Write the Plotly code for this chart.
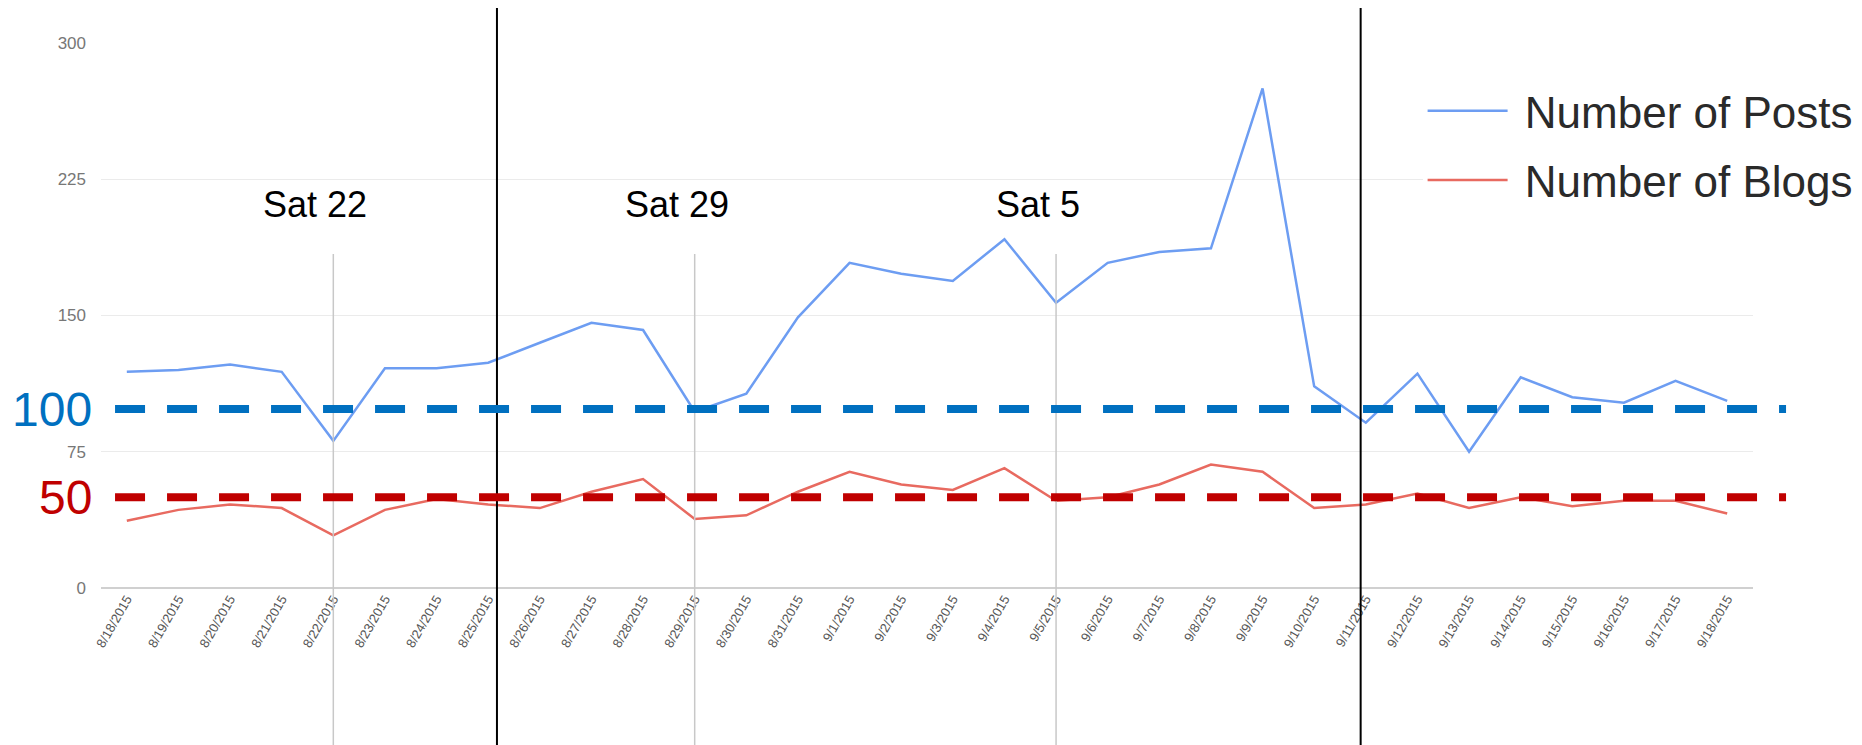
import plotly.graph_objects as go

dates = ["8/18/2015", "8/19/2015", "8/20/2015", "8/21/2015", "8/22/2015", "8/23/2015",
         "8/24/2015", "8/25/2015", "8/26/2015", "8/27/2015", "8/28/2015", "8/29/2015",
         "8/30/2015", "8/31/2015", "9/1/2015", "9/2/2015", "9/3/2015", "9/4/2015",
         "9/5/2015", "9/6/2015", "9/7/2015", "9/8/2015", "9/9/2015", "9/10/2015",
         "9/11/2015", "9/12/2015", "9/13/2015", "9/14/2015", "9/15/2015", "9/16/2015",
         "9/17/2015", "9/18/2015"]
posts = [119, 120, 123, 119, 81, 121, 121, 124, 135, 146, 142, 97, 107, 149, 179, 173,
         169, 192, 157, 179, 185, 187, 275, 111, 91, 118, 75, 116, 105, 102, 114, 103]
blogs = [37, 43, 46, 44, 29, 43, 49, 46, 44, 53, 60, 38, 40, 53, 64, 57,
         54, 66, 48, 50, 57, 68, 64, 44, 46, 52, 44, 50, 45, 48, 48, 41]

saturdays = ["8/22/2015", "8/29/2015", "9/5/2015"]
saturday_labels = ["Sat 22", "Sat 29", "Sat 5"]
week_breaks = [7.17, 23.9]   # hand drawn separators, category index
target_labels = ["100", "50"]
target_levels = [98.5, 50]   # where the hand drawn dashes sit
target_colors = ["#0070C0", "#C00000"]

fig = go.Figure()
fig.add_trace(go.Scatter(x=dates, y=posts, mode="lines", name=" Number of Posts",
                         line=dict(color="#6D9DF2", width=2.5), legendgroup="a"))
fig.add_trace(go.Scatter(x=dates, y=blogs, mode="lines", name=" Number of Blogs",
                         line=dict(color="#E86A60", width=2.5), legendgroup="b"))

# saturday markers
for d, lab in zip(saturdays, saturday_labels):
    i = dates.index(d)
    fig.add_shape(type="line", xref="x", yref="paper", x0=i, x1=i, y0=-0.31, y1=0.613,
                  line=dict(color="#c8c8c8", width=1.5), layer="above")
    fig.add_annotation(x=i, y=211, xref="x", yref="y", text=lab, showarrow=False,
                       xshift=-18, font=dict(size=36, color="black", family="Liberation Sans, Arial"))

for b in week_breaks:
    fig.add_shape(type="line", xref="x", yref="paper", x0=b, x1=b, y0=-0.31, y1=1.065,
                  line=dict(color="black", width=2), layer="above")

for lvl, lab, c in zip(target_levels, target_labels, target_colors):
    fig.add_shape(type="line", xref="paper", yref="y", x0=0.0085, x1=1.02, y0=lvl, y1=lvl,
                  line=dict(color=c, width=8, dash="30px,22px"), layer="above")
    fig.add_annotation(x=-0.004, y=lvl, xref="paper", yref="y", text=lab, showarrow=False,
                       xanchor="right", font=dict(size=48, color=c, family="Liberation Sans, Arial"))

fig.update_layout(
    width=1862, height=745,
    margin=dict(l=93, r=115, t=35, b=165),
    paper_bgcolor="white", plot_bgcolor="white",
    font=dict(family="Liberation Sans, Arial"),
    legend=dict(x=0.8, y=0.94, xanchor="left", yanchor="top", bgcolor="white",
                font=dict(size=44, color="#2a2a2a"), itemwidth=80, tracegroupgap=9),
)
fig.update_xaxes(type="category", range=[-0.5, 31.5], tickangle=-60, showgrid=False,
                 tickfont=dict(size=13, color="#555"), showline=False, ticks="")
fig.update_yaxes(range=[0, 300], tickvals=[0, 75, 150, 225, 300], gridcolor="#ebebeb",
                 zeroline=True, zerolinecolor="#d0d0d0", zerolinewidth=2,
                 tickfont=dict(size=17, color="#777"), ticklabelstandoff=14)

fig.write_html("out.html")
